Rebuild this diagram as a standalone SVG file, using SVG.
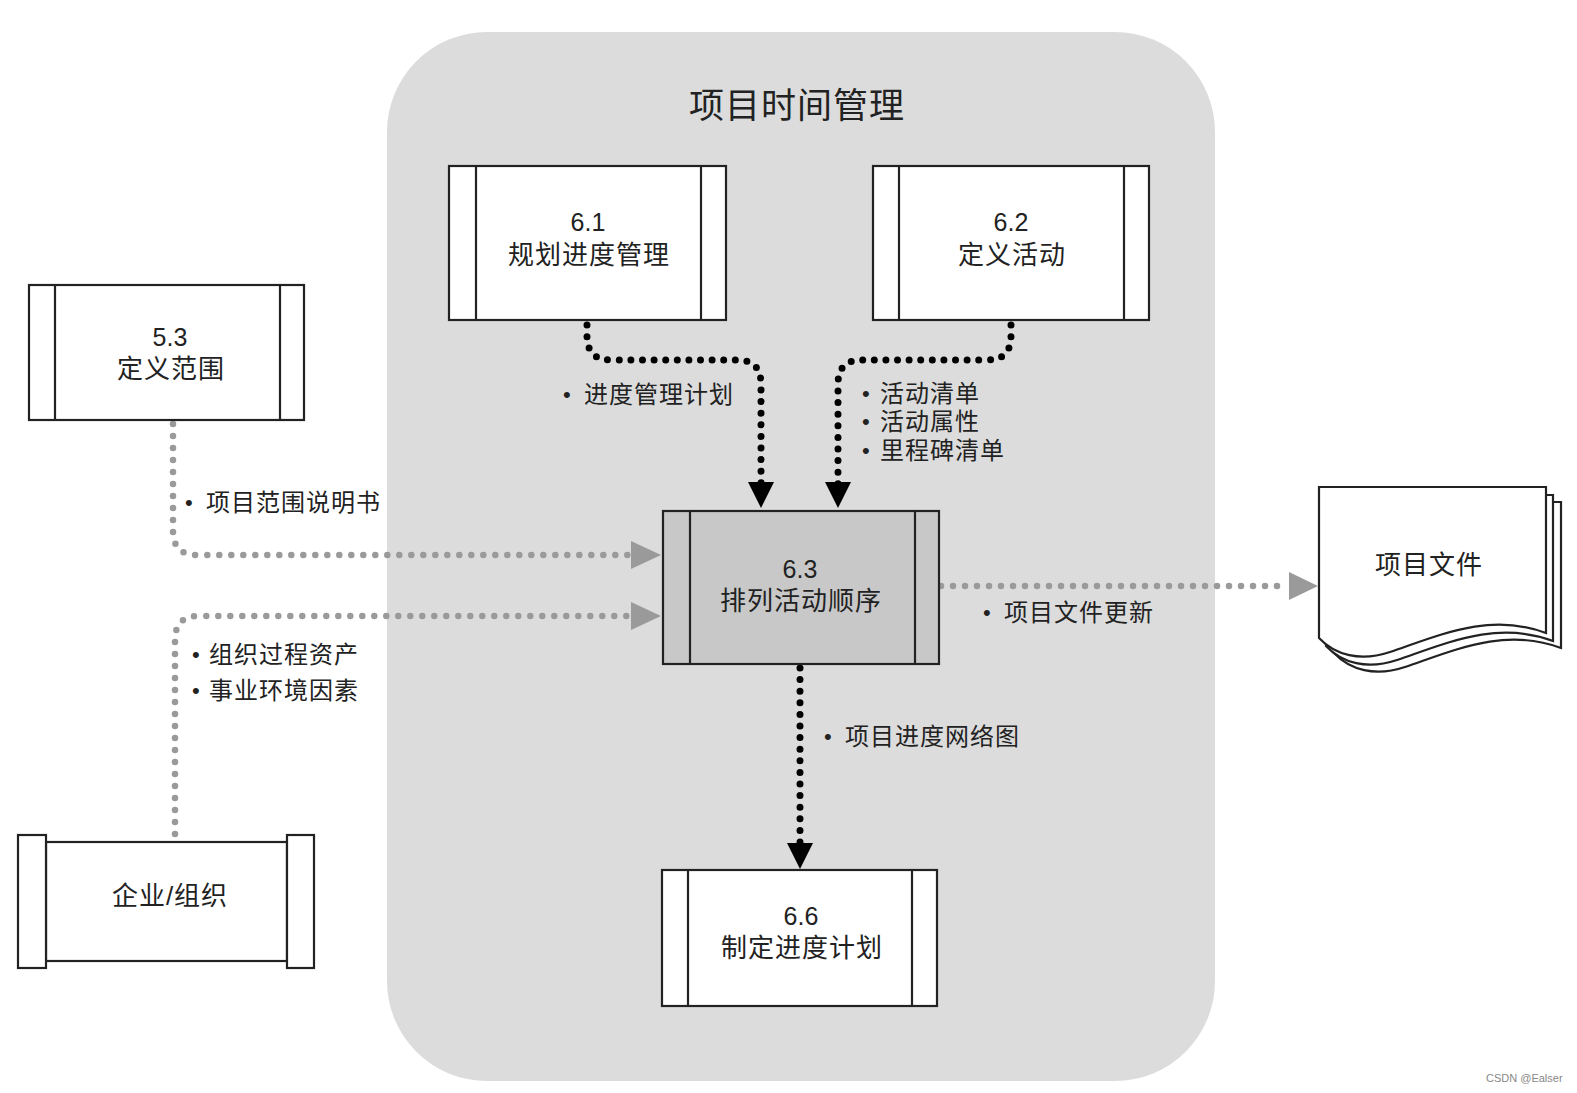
<svg xmlns="http://www.w3.org/2000/svg" width="1577" height="1093" viewBox="0 0 1577 1093">
<style>
text{font-family:"Liberation Sans","Noto Sans CJK SC",sans-serif;fill:#222;dominant-baseline:central}
.bx{font-size:25px;text-anchor:middle}
.cj{font-size:26px;letter-spacing:1px}
.lb{font-size:24px;letter-spacing:1px}
.bu{font-size:22px}
.box{fill:#fff;stroke:#222;stroke-width:2.2}
.blk{fill:none;stroke:#000;stroke-width:7;stroke-linecap:round;stroke-dasharray:0 11.6}
.gry{fill:none;stroke:#9a9a9a;stroke-width:6.5;stroke-linecap:round;stroke-dasharray:0 12}
</style>
<rect width="1577" height="1093" fill="#fff"/>
<rect id="frame" x="387" y="32" width="828" height="1049" rx="100" ry="100" fill="#dcdcdc"/>
<text x="797" y="105" style="font-size:35px;letter-spacing:1px;text-anchor:middle">项目时间管理</text>

<g id="connectors">
<path class="blk" d="M587,325 L587,336 Q587,360 611,360 L737,360 Q761,360 761,384 L761,484"/>
<polygon points="748,482 774,482 761,508" fill="#000"/>
<path class="blk" d="M1011,325 L1011,336 Q1011,360 987,360 L862,360 Q838,360 838,384 L838,484"/>
<polygon points="825,482 851,482 838,508" fill="#000"/>
<path class="gry" d="M173,424 L173,531 Q173,555 197,555 L628,555"/>
<polygon points="631,541 631,569 661,555" fill="#9a9a9a"/>
<path class="gry" d="M175,834 L175,640 Q175,616 199,616 L628,616"/>
<polygon points="631,602 631,630 661,616" fill="#9a9a9a"/>
<path class="gry" d="M941,586 L1286,586"/>
<polygon points="1289,572 1289,600 1318,586" fill="#9a9a9a"/>
<path class="blk" d="M800,668 L800,842"/>
<polygon points="787,843 813,843 800,869" fill="#000"/>
</g>

<g id="n61">
<rect class="box" x="449" y="166" width="277" height="154"/>
<line x1="476" y1="166" x2="476" y2="320" stroke="#222" stroke-width="2.2"/>
<line x1="701" y1="166" x2="701" y2="320" stroke="#222" stroke-width="2.2"/>
<text class="bx" x="588" y="222">6.1</text>
<text class="bx cj" x="589" y="255">规划进度管理</text>
</g>
<g id="n62">
<rect class="box" x="873" y="166" width="276" height="154"/>
<line x1="899" y1="166" x2="899" y2="320" stroke="#222" stroke-width="2.2"/>
<line x1="1124" y1="166" x2="1124" y2="320" stroke="#222" stroke-width="2.2"/>
<text class="bx" x="1011" y="222">6.2</text>
<text class="bx cj" x="1012" y="255">定义活动</text>
</g>
<g id="n53">
<rect class="box" x="29" y="285" width="275" height="135"/>
<line x1="55" y1="285" x2="55" y2="420" stroke="#222" stroke-width="2.2"/>
<line x1="280" y1="285" x2="280" y2="420" stroke="#222" stroke-width="2.2"/>
<text class="bx" x="170" y="337">5.3</text>
<text class="bx cj" x="171" y="369">定义范围</text>
</g>
<g id="n63">
<rect class="box" x="663" y="511" width="276" height="153" style="fill:#c8c8c8"/>
<line x1="690" y1="511" x2="690" y2="664" stroke="#222" stroke-width="2.2"/>
<line x1="915" y1="511" x2="915" y2="664" stroke="#222" stroke-width="2.2"/>
<text class="bx" x="800" y="569">6.3</text>
<text class="bx cj" x="801" y="601">排列活动顺序</text>
</g>
<g id="n66">
<rect class="box" x="662" y="870" width="275" height="136"/>
<line x1="688" y1="870" x2="688" y2="1006" stroke="#222" stroke-width="2.2"/>
<line x1="912" y1="870" x2="912" y2="1006" stroke="#222" stroke-width="2.2"/>
<text class="bx" x="801" y="916">6.6</text>
<text class="bx cj" x="802" y="948">制定进度计划</text>
</g>
<g id="enterprise">
<rect class="box" x="46" y="842" width="241" height="119"/>
<rect class="box" x="18" y="835" width="28" height="133"/>
<rect class="box" x="287" y="835" width="27" height="133"/>
<text class="bx cj" x="170" y="896">企业/组织</text>
</g>
<g id="docs">
<path class="box" transform="translate(15,15)" d="M1319,487 H1546 V633 C1490,612 1440,635 1390,652 C1360,662 1335,655 1319,638 Z"/>
<path class="box" transform="translate(7,8)" d="M1319,487 H1546 V633 C1490,612 1440,635 1390,652 C1360,662 1335,655 1319,638 Z"/>
<path class="box" d="M1319,487 H1546 V633 C1490,612 1440,635 1390,652 C1360,662 1335,655 1319,638 Z"/>
<text class="bx cj" x="1429" y="565">项目文件</text>
</g>

<g id="labels">
<text class="bu" x="563" y="394">•</text><text class="lb" x="584" y="394">进度管理计划</text>
<text class="bu" x="862" y="393">•</text><text class="lb" x="880" y="393">活动清单</text>
<text class="bu" x="862" y="421">•</text><text class="lb" x="880" y="421">活动属性</text>
<text class="bu" x="862" y="450">•</text><text class="lb" x="880" y="450">里程碑清单</text>
<text class="bu" x="185" y="502">•</text><text class="lb" x="206" y="502">项目范围说明书</text>
<text class="bu" x="192" y="654">•</text><text class="lb" x="209" y="654">组织过程资产</text>
<text class="bu" x="192" y="690">•</text><text class="lb" x="209" y="690">事业环境因素</text>
<text class="bu" x="983" y="612">•</text><text class="lb" x="1004" y="612">项目文件更新</text>
<text class="bu" x="824" y="736">•</text><text class="lb" x="845" y="736">项目进度网络图</text>
</g>
<text x="1486" y="1078" style="font-size:11px;fill:#888">CSDN @Ealser</text>
</svg>
